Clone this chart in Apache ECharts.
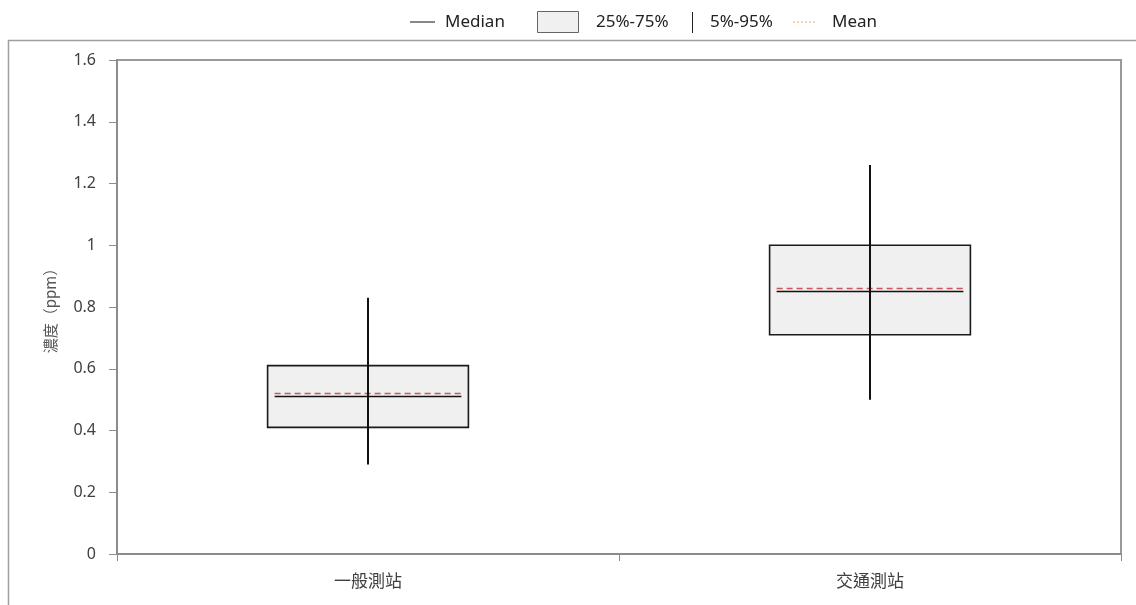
<!DOCTYPE html>
<html><head><meta charset="utf-8">
<script src="https://cdn.jsdelivr.net/npm/echarts@6/dist/echarts.min.js"></script>
<style>html,body{margin:0;padding:0;background:#fff}#c{width:1136px;height:605px}</style>
</head><body><div id="c"></div>
<script>
const categories = ['一般測站', '交通測站'];
const p5 = [0.29, 0.50];
const q1 = [0.41, 0.71];
const median = [0.51, 0.85];
const mean = [0.52, 0.86];
const q3 = [0.61, 1.00];
const p95 = [0.83, 1.26];
const yTicks = [0, 0.2, 0.4, 0.6, 0.8, 1, 1.2, 1.4, 1.6];

const data = categories.map((c, i) => [i, p5[i], q1[i], median[i], mean[i], q3[i], p95[i]]);
const FONT = "'Noto Sans', 'Noto Sans CJK TC', sans-serif";
const CJK = "'Noto Sans CJK TC', 'Noto Sans', sans-serif";

const chart = echarts.init(document.getElementById('c'));
chart.setOption({
  animation: false,
  grid: { left: 117, right: 15, top: 60, bottom: 51, show: true, borderColor: '#999', borderWidth: 2, backgroundColor: 'transparent' },
  xAxis: {
    type: 'category', data: categories,
    axisLine: { lineStyle: { color: '#8c8c8c', width: 2 } },
    axisTick: { show: true, length: 7, lineStyle: { color: '#8c8c8c', width: 1 } },
    axisLabel: { margin: 18, fontSize: 17, color: '#404040', fontFamily: CJK },
    splitLine: { show: false }
  },
  yAxis: {
    type: 'value', min: 0, max: 1.6, interval: 0.2,
    name: '濃度（ppm）', nameLocation: 'middle', nameGap: 59, nameRotate: 90,
    nameTextStyle: { fontSize: 15, color: '#555', fontFamily: CJK },
    axisLine: { show: true, lineStyle: { color: '#8c8c8c', width: 2 } },
    axisTick: { show: true, inside: false, length: 8, lineStyle: { color: '#8c8c8c', width: 1 } },
    axisLabel: { margin: 21, fontSize: 16, color: '#404040', fontFamily: FONT,
      formatter: v => { const t = yTicks.find(x => Math.abs(x - v) < 1e-9); return t === undefined ? '' : String(t); } },
    splitLine: { show: false }
  },
  series: [{
    type: 'custom',
    data: data,
    encode: { x: 0, y: [1, 2, 3, 4, 5, 6] },
    renderItem: function (params, api) {
      const x = api.value(0);
      const bw = api.size([1, 0])[0];
      const boxW = bw * 0.4;
      const medW = bw * 0.372;
      const c = api.coord([x, 0])[0];
      const yP5 = api.coord([x, api.value(1)])[1];
      const yQ1 = api.coord([x, api.value(2)])[1];
      const yMed = api.coord([x, api.value(3)])[1];
      const yMean = api.coord([x, api.value(4)])[1];
      const yQ3 = api.coord([x, api.value(5)])[1];
      const yP95 = api.coord([x, api.value(6)])[1];
      return {
        type: 'group',
        children: [
          { type: 'rect', shape: { x: c - boxW / 2, y: yQ3, width: boxW, height: yQ1 - yQ3 },
            style: { fill: '#f0f0f0', stroke: '#1a1a1a', lineWidth: 1.6 } },
          { type: 'line', shape: { x1: c - medW / 2, y1: yMed, x2: c + medW / 2, y2: yMed },
            style: { stroke: '#111', lineWidth: 1.6 } },
          { type: 'line', shape: { x1: c - medW / 2, y1: yMean, x2: c + medW / 2, y2: yMean },
            style: { stroke: '#d0555a', lineWidth: 1.6, lineDash: [6, 4] } },
          { type: 'line', shape: { x1: c, y1: yP95, x2: c, y2: yP5 },
            style: { stroke: '#111', lineWidth: 2 } }
        ]
      };
    }
  }],
  graphic: [
    { type: 'rect', shape: { x: 8.5, y: 40.5, width: 1200, height: 700 }, style: { fill: 'none', stroke: '#a0a0a0', lineWidth: 1.5 }, z: -1 },
    { type: 'line', shape: { x1: 410, y1: 22, x2: 435, y2: 22 }, style: { stroke: '#111', lineWidth: 1 } },
    { type: 'text', x: 445, y: 22, style: { text: 'Median', fontSize: 17, fill: '#222', fontFamily: FONT, verticalAlign: 'middle' } },
    { type: 'rect', shape: { x: 537.5, y: 11.5, width: 41, height: 21 }, style: { fill: '#f0f0f0', stroke: '#666', lineWidth: 1 } },
    { type: 'text', x: 596, y: 22, style: { text: '25%-75%', fontSize: 17, fill: '#222', fontFamily: FONT, verticalAlign: 'middle' } },
    { type: 'line', shape: { x1: 692.5, y1: 12, x2: 692.5, y2: 33 }, style: { stroke: '#222', lineWidth: 1 } },
    { type: 'text', x: 710, y: 22, style: { text: '5%-95%', fontSize: 17, fill: '#222', fontFamily: FONT, verticalAlign: 'middle' } },
    { type: 'line', shape: { x1: 793, y1: 22, x2: 817, y2: 22 }, style: { stroke: '#f4a070', lineWidth: 1, lineDash: [2, 2] } },
    { type: 'text', x: 832, y: 22, style: { text: 'Mean', fontSize: 17, fill: '#222', fontFamily: FONT, verticalAlign: 'middle' } }
  ]
});
</script></body></html>
